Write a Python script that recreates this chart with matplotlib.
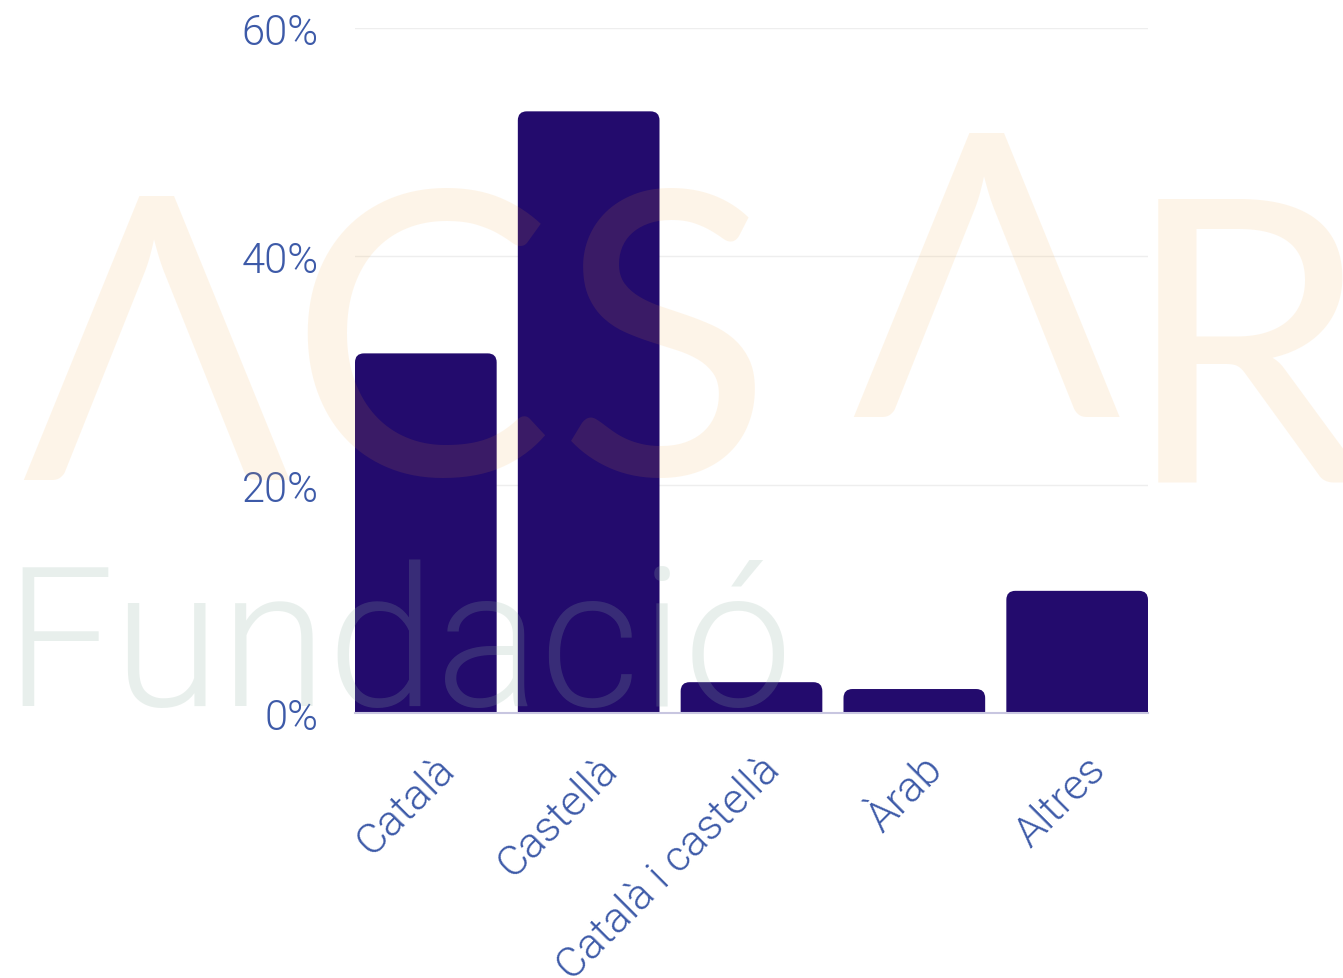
import matplotlib
matplotlib.use("Agg")
import matplotlib.pyplot as plt
from matplotlib.patches import PathPatch
from matplotlib.path import Path
import matplotlib.transforms as mtrans

categories = ["Català", "Castellà", "Català i castellà", "Àrab", "Altres"]
values = [31.5, 52.7, 2.7, 2.1, 10.7]
yticks = [0, 20, 40, 60]
ytick_labels = ["0%", "20%", "40%", "60%"]

W, H, DPI = 1343, 979, 100
fig = plt.figure(figsize=(W / DPI, H / DPI), dpi=DPI)
fig.patch.set_facecolor("white")

ax = fig.add_axes([355 / W, 1 - 714 / H, (1148 - 355) / W, (714 - 29) / H])
ax.set_facecolor("none")

bar_color = "#230b6d"
text_color = "#3d5aa8"
bw = 0.87
bars = ax.bar(range(len(categories)), values, width=bw, color=bar_color, zorder=2)
ax.set_xlim(-bw / 2, len(categories) - 1 + bw / 2)
ax.set_ylim(0, 60)

# rounded top corners (replace plain bars by rounded-top paths)
px_x = (ax.get_xlim()[1] - ax.get_xlim()[0]) / (1148 - 355)
px_y = 60 / (714 - 29)
r_px = 9
for b in bars:
    x0, y0, w, h = b.get_x(), b.get_y(), b.get_width(), b.get_height()
    x1, y1 = x0 + w, y0 + h
    b.set_visible(False)
    rx = r_px * px_x
    ry = min(r_px * px_y, h / 2)
    verts = [(x0, y0), (x0, y1 - ry), (x0, y1), (x0 + rx, y1),
             (x1 - rx, y1), (x1, y1), (x1, y1 - ry), (x1, y0), (x0, y0)]
    codes = [Path.MOVETO, Path.LINETO, Path.CURVE3, Path.CURVE3,
             Path.LINETO, Path.CURVE3, Path.CURVE3, Path.LINETO, Path.CLOSEPOLY]
    ax.add_patch(PathPatch(Path(verts, codes), facecolor=bar_color,
                           edgecolor="none", zorder=2))

ax.set_yticks(yticks)
ax.set_yticklabels(ytick_labels)
for lab in ax.get_yticklabels():
    lab.set_fontfamily(["Roboto", "DejaVu Sans"])
    lab.set_fontweight(300)
    lab.set_color(text_color)
ax.tick_params(axis="y", length=0, pad=26, labelsize=30)

# category labels (rotated, anchored at their right end)
ax.set_xticks(range(len(categories)))
ax.set_xticklabels([])
ax.tick_params(axis="x", length=0)
off = mtrans.ScaledTranslation(22 / DPI, -50 / DPI, fig.dpi_scale_trans)
for i, cat in enumerate(categories):
    ax.text(i, 0, cat, transform=ax.get_xaxis_transform() + off,
            rotation=45, rotation_mode="anchor", ha="right", va="center",
            fontsize=31, color=text_color, family=["Roboto", "DejaVu Sans"],
            fontweight=300, clip_on=False)

ax.grid(axis="y", color="#eeeeee", linewidth=1, zorder=0)
ax.set_axisbelow(True)
for s in ["top", "right", "left"]:
    ax.spines[s].set_visible(False)
ax.spines["bottom"].set_color("#c8c6e0")
ax.spines["bottom"].set_linewidth(1.5)
ax.spines["bottom"].set_zorder(3)

# watermark
orange = "#f5a030"
wm_alpha = 0.11
letters = [("Λ", 22, 480), ("C", 288, 475), ("S", 558, 475), ("Λ", 852, 417), ("R", 1122, 483)]
for ch, lx, by in letters:
    fig.text(lx / W, 1 - by / H, ch, fontsize=285, color=orange, alpha=wm_alpha,
             ha="left", va="baseline", family=["Lato", "DejaVu Sans"],
             fontweight="normal", zorder=5)
fig.text(4 / W, 1 - 706 / H, "Fundació", fontsize=140, color="#8fb3a3", alpha=0.2,
         ha="left", va="baseline", family=["Roboto", "DejaVu Sans"],
         fontweight=300, zorder=5)

fig.savefig("out.png", dpi=DPI, facecolor="white")
